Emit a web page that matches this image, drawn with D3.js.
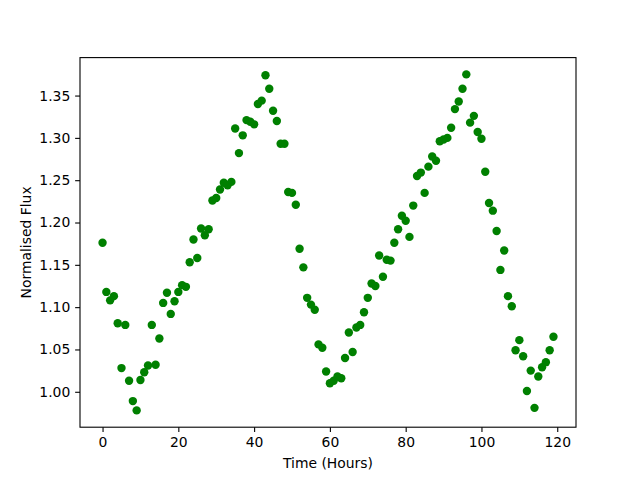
<!DOCTYPE html>
<html>
<head>
<meta charset="utf-8">
<script src="https://cdn.jsdelivr.net/npm/d3@7"></script>
<style>
  body { margin: 0; background: #fff; }
  svg { display: block; }
  .tick text { font-family: "DejaVu Sans", sans-serif; font-size: 13.9px; fill: #000; }
  .axis-label { font-family: "DejaVu Sans", sans-serif; font-size: 13.9px; fill: #000; }
</style>
</head>
<body>
<div id="chart"></div>
<script>
// time of each sample (hours)
const hours = [
  0, 1, 2, 3, 4, 5, 6, 7, 8, 9, 10, 11, 12, 13, 14, 15, 16, 17, 18, 19,
  20, 21, 22, 23, 24, 25, 26, 27, 28, 29, 30, 31, 32, 33, 34, 35, 36, 37, 38, 39,
  40, 41, 42, 43, 44, 45, 46, 47, 48, 49, 50, 51, 52, 53, 54, 55, 56, 57, 58, 59,
  60, 61, 62, 63, 64, 65, 66, 67, 68, 69, 70, 71, 72, 73, 74, 75, 76, 77, 78, 79,
  80, 81, 82, 83, 84, 85, 86, 87, 88, 89, 90, 91, 92, 93, 94, 95, 96, 97, 98, 99,
  100, 101, 102, 103, 104, 105, 106, 107, 108, 109, 110, 111, 112, 113, 114, 115, 116, 117, 118, 119
];
// normalised flux
const flux = [
  1.176, 1.118, 1.108, 1.113, 1.081, 1.028, 1.079, 1.013, 0.989, 0.978,
  1.014, 1.023, 1.031, 1.079, 1.032, 1.063, 1.105, 1.117, 1.092, 1.107,
  1.118, 1.126, 1.124, 1.153, 1.180, 1.158, 1.193, 1.185, 1.192, 1.226,
  1.229, 1.239, 1.247, 1.244, 1.248, 1.311, 1.282, 1.303, 1.321, 1.319,
  1.316, 1.340, 1.344, 1.374, 1.358, 1.332, 1.320, 1.293, 1.293, 1.236,
  1.235, 1.221, 1.169, 1.147, 1.111, 1.103, 1.097, 1.056, 1.052, 1.024,
  1.010, 1.013, 1.018, 1.016, 1.040, 1.070, 1.047, 1.076, 1.079, 1.094,
  1.111, 1.128, 1.125, 1.161, 1.136, 1.156, 1.155, 1.176, 1.192, 1.208,
  1.202, 1.183, 1.220, 1.255, 1.259, 1.235, 1.266, 1.278, 1.273, 1.296,
  1.298, 1.300, 1.312, 1.334, 1.343, 1.358, 1.375, 1.318, 1.326, 1.307,
  1.299, 1.260, 1.223, 1.214, 1.190, 1.144, 1.167, 1.113, 1.101, 1.049,
  1.061, 1.042, 1.001, 1.025, 0.981, 1.018, 1.029, 1.035, 1.049, 1.065
];
const xTicks = [0, 20, 40, 60, 80, 100, 120];
const yTicks = [1.00, 1.05, 1.10, 1.15, 1.20, 1.25, 1.30, 1.35];

const width = 640, height = 480;
const margin = {top: 57.6, right: 64, bottom: 52.8, left: 80};
const innerW = width - margin.left - margin.right;
const innerH = height - margin.top - margin.bottom;

const data = hours.map((h, i) => ({x: h, y: flux[i]}));

// matplotlib style 5% padding on data extent
function padded(ext) {
  const p = (ext[1] - ext[0]) * 0.05;
  return [ext[0] - p, ext[1] + p];
}

const x = d3.scaleLinear().domain(padded(d3.extent(hours))).range([0, innerW]);
const y = d3.scaleLinear().domain(padded(d3.extent(flux))).range([innerH, 0]);

const svg = d3.select("#chart").append("svg")
  .attr("width", width)
  .attr("height", height);

const g = svg.append("g")
  .attr("transform", `translate(${margin.left},${margin.top})`);

const tickLen = 4.86;

const xAxis = g.append("g")
  .attr("transform", `translate(0,${innerH})`)
  .call(d3.axisBottom(x).tickValues(xTicks).tickFormat(d3.format("d"))
    .tickSize(tickLen).tickPadding(4.9));

const yAxis = g.append("g")
  .call(d3.axisLeft(y).tickValues(yTicks).tickFormat(d3.format(".2f"))
    .tickSize(tickLen).tickPadding(4.9));

[xAxis, yAxis].forEach(a => {
  a.select(".domain").remove();
  a.selectAll(".tick line").attr("stroke", "#000").attr("stroke-width", 1.1);
});

g.selectAll(".point")
  .data(data)
  .enter()
  .append("circle")
  .attr("class", "point")
  .attr("cx", d => x(d.x))
  .attr("cy", d => y(d.y))
  .attr("r", 4.2)
  .attr("fill", "#008000");

// frame
g.append("rect")
  .attr("width", innerW)
  .attr("height", innerH)
  .attr("fill", "none")
  .attr("stroke", "#000")
  .attr("stroke-width", 1.1);

svg.append("text")
  .attr("class", "axis-label")
  .attr("x", margin.left + innerW / 2)
  .attr("y", 468)
  .attr("text-anchor", "middle")
  .text("Time (Hours)");

svg.append("text")
  .attr("class", "axis-label")
  .attr("transform", `translate(31,${margin.top + innerH / 2}) rotate(-90)`)
  .attr("text-anchor", "middle")
  .text("Normalised Flux");
</script>
</body>
</html>
